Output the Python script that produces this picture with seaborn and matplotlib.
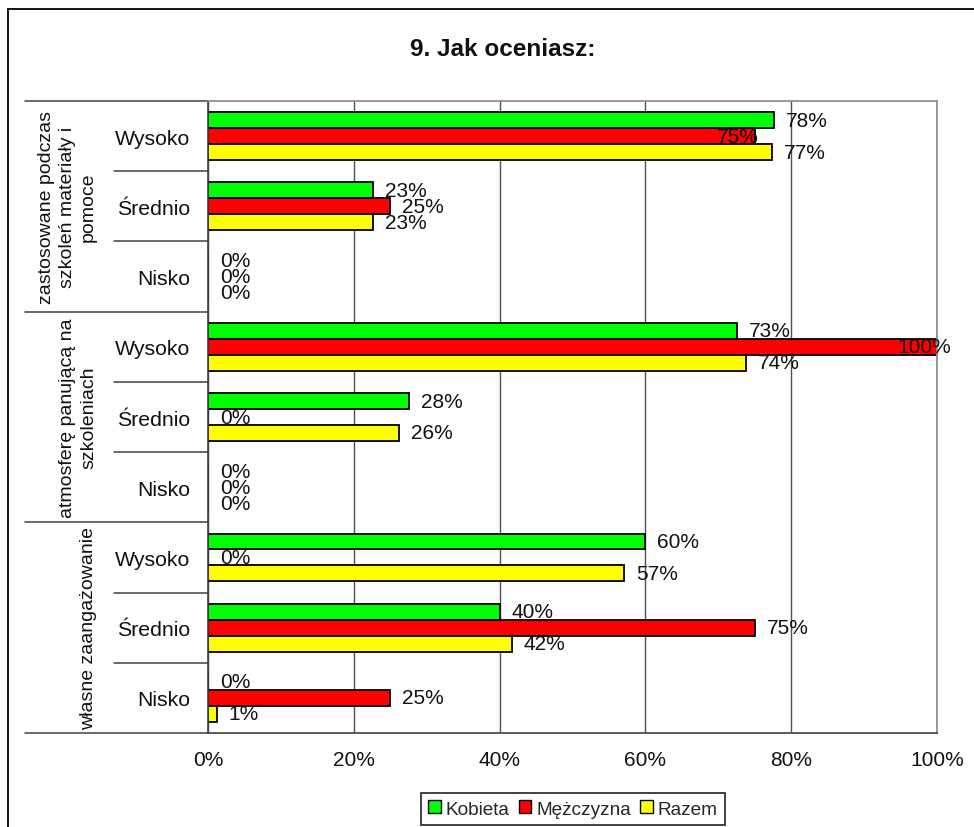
import matplotlib
matplotlib.use("Agg")
import matplotlib.pyplot as plt
import matplotlib.transforms as mtransforms
from matplotlib.lines import Line2D
from matplotlib.patches import Patch
from matplotlib.ticker import PercentFormatter
import numpy as np
import pandas as pd
import seaborn as sns

sns.set_theme(style="white")
plt.rcParams["font.family"] = ["Liberation Sans", "DejaVu Sans"]

# ── Data ──────────────────────────────────────────────────────────────────────

title = "9. Jak oceniasz:"
groups = [
    "zastosowane podczas\nszkoleń materiały i\npomoce",
    "atmosferę panującą na\nszkoleniach",
    "własne zaangażowanie",
]
levels = ["Wysoko", "Średnio", "Nisko"]
series = ["Kobieta", "Mężczyzna", "Razem"]
colors = ["#00FF00", "#FF0000", "#FFFF00"]

kobieta   = [0.776, 0.226, 0.0, 0.726, 0.276, 0.0, 0.600, 0.400, 0.0]
mezczyzna = [0.750, 0.250, 0.0, 1.000, 0.000, 0.0, 0.000, 0.750, 0.250]
razem     = [0.774, 0.226, 0.0, 0.738, 0.262, 0.0, 0.571, 0.417, 0.012]
xticks = [0.0, 0.2, 0.4, 0.6, 0.8, 1.0]

row_ids = [f"{g}|{lv}" for g in range(len(groups)) for lv in levels]
df = pd.DataFrame({
    "row": row_ids * 3,
    "seria": np.repeat(series, len(row_ids)),
    "value": kobieta + mezczyzna + razem,
})

# label nudges (px) where the original overlaps the bar end
nudge = {(0, 1): -50, (3, 1): -52}

# ── Figure ────────────────────────────────────────────────────────────────────

W, H = 974, 828
fig = plt.figure(figsize=(W / 100, H / 100), dpi=100)
L, R, T, B = 208, 937, 102, 734
ax = fig.add_axes([L / W, 1 - B / H, (R - L) / W, (B - T) / H])

sns.barplot(
    data=df, y="row", x="value", hue="seria", orient="h",
    order=row_ids, hue_order=series, palette=colors, saturation=1,
    width=0.68, edgecolor="black", linewidth=1.3, legend=False, ax=ax,
)
ax.set_xlim(0, 1)
ax.set_ylim(len(row_ids) - 0.5, -0.5)
ax.set_xlabel("")
ax.set_ylabel("")

ax.set_xticks(xticks)
ax.xaxis.set_major_formatter(PercentFormatter(1.0, decimals=0))
ax.tick_params(axis="x", length=5, width=1, color="#606060", pad=7,
               labelsize=15, labelcolor="#111111")
ax.set_yticks(range(len(row_ids)))
ax.set_yticklabels(levels * len(groups))
ax.tick_params(axis="y", length=0, pad=13, labelsize=15.3, labelcolor="#111111")

ax.xaxis.grid(True, color="#505050", lw=1)
ax.yaxis.grid(False)
ax.set_axisbelow(True)
for side in ["top", "right"]:
    ax.spines[side].set_color("#909090")
    ax.spines[side].set_linewidth(1.3)
for side in ["left", "bottom"]:
    ax.spines[side].set_color("#404040")
    ax.spines[side].set_linewidth(1.2)

# data labels
px = 0.72  # points per pixel at 100 dpi
for si, cont in enumerate(ax.containers):
    for ri, bar in enumerate(cont):
        v = bar.get_width()
        yc = bar.get_y() + bar.get_height() / 2
        dx = 12 + nudge.get((ri, si), 0)
        ax.annotate(f"{v:.0%}", xy=(v, yc), xytext=(dx * px, 0),
                    textcoords="offset points", ha="left", va="center",
                    fontsize=15, color="#111111", annotation_clip=False)

# multi-level category axis
blend = mtransforms.blended_transform_factory(ax.transAxes, ax.transData)
x_sub = -(L - 114) / (R - L)
x_grp = -(L - 25) / (R - L)
for i in range(len(row_ids) + 1):
    y = i - 0.5
    x0 = x_grp if i % len(levels) == 0 else x_sub
    ax.plot([x0, 0], [y, y], transform=blend, color="#404040", lw=1.1,
            clip_on=False)

x_lab = -(L - 97) / (R - L)
for gi, name in enumerate(groups):
    yc = gi * len(levels) + (len(levels) - 1) / 2
    ax.text(x_lab, yc, name, transform=blend, rotation=90, ha="right",
            va="center", multialignment="center", fontsize=14,
            color="#111111", linespacing=1.3)

# title, frame, legend
fig.text(503 / W, 1 - 49 / H, title, ha="center", va="center",
         fontsize=17.5, fontweight="bold", color="#111111")
fig.add_artist(Line2D([8 / W, 1], [1 - 10 / H] * 2, transform=fig.transFigure,
                      color="black", lw=1.3))
fig.add_artist(Line2D([8 / W] * 2, [0, 1 - 10 / H], transform=fig.transFigure,
                      color="black", lw=1.3))

handles = [Patch(facecolor=c, edgecolor="black", lw=1) for c in colors]
leg = fig.legend(handles, series, loc="center",
                 bbox_to_anchor=(573 / W, 1 - 810 / H), ncol=3,
                 fontsize=13.7, frameon=True, fancybox=False, framealpha=1,
                 edgecolor="#222222", handlelength=0.65, handleheight=0.65,
                 handletextpad=0.25, columnspacing=0.5, borderpad=0.4)
leg.get_frame().set_linewidth(1.2)

fig.savefig("out.png", dpi=100)
plt.close(fig)
